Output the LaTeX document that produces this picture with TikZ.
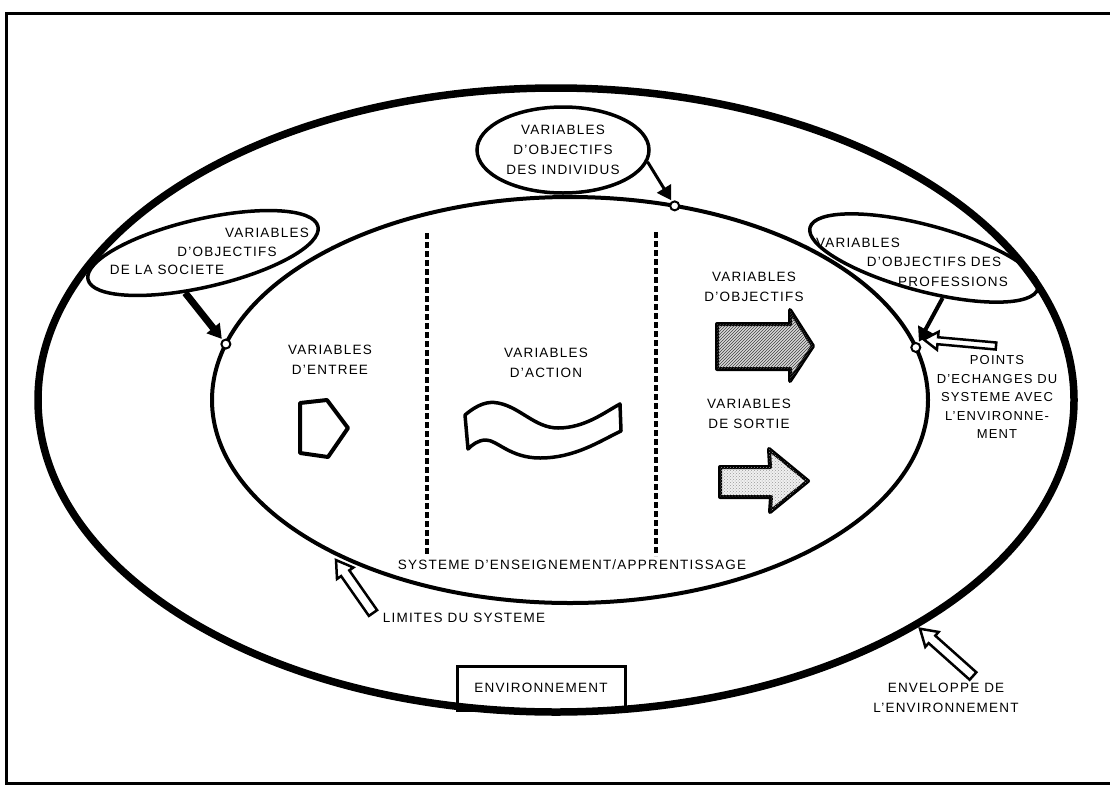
\documentclass[tikz,border=0pt]{standalone}
\usepackage{fontspec}
\setmainfont[LetterSpace=9]{Liberation Sans}
\usetikzlibrary{calc,arrows.meta,patterns,shapes.geometric}
% hollow arrow: #1 name, #2 tail, #3 tip, #4 body half width, #5 head half width, #6 head length
\newcommand\hollowarrow[6]{%
  \coordinate (#1h) at ($(#3)!#6!(#2)$);
  \draw[hollowarr] ($(#2)!#4!90:(#3)$) -- ($(#1h)!#4!90:(#3)$) -- ($(#1h)!#5!90:(#3)$) -- (#3)
     -- ($(#1h)!#5!-90:(#3)$) -- ($(#1h)!#4!-90:(#3)$) -- ($(#2)!#4!-90:(#3)$) -- cycle;%
}
\begin{document}
\begin{tikzpicture}[x=1pt,y=-1pt,
  txt/.style={font=\fontsize{13.5}{20}\selectfont, inner sep=0pt, align=center},
  bubble/.style={ellipse, draw, line width=3.5pt, inner sep=0pt},
  hollowarr/.style={draw, line width=2.5pt, fill=white, line join=miter},
  solidarr/.style={line width=#1, -{Triangle[length=14pt,width=16pt]}, shorten >=1pt},
  exchpt/.style={circle, draw, fill=white, line width=2pt, minimum size=9pt, inner sep=0pt},
  divider/.style={line width=3.5pt, dash pattern=on 6pt off 3pt},
  fatarrow/.style={draw, line width=4pt, line join=round}]
\useasboundingbox (0,0) rectangle (1110,790);
\fill[white] (0,0) rectangle (1110,790);
% frame
\coordinate (f1) at (1110,13); \coordinate (f2) at (6,13);
\coordinate (f3) at (6,783); \coordinate (f4) at (1110,783);
\draw[line width=3pt] (f1) -- (f2) -- (f3) -- (f4);
% environment envelope and system boundary
\coordinate (oc) at (556,400);
\draw[line width=7.5pt] (oc) ellipse [x radius=518pt, y radius=312pt];
\coordinate (ic) at (570,400);
\draw[line width=4pt] (ic) ellipse [x radius=358pt, y radius=203pt];
% dividers
\coordinate (d1a) at (427,233); \coordinate (d1b) at (427,556);
\coordinate (d2a) at (656,232); \coordinate (d2b) at (656,556);
\draw[divider] (d1a) -- (d1b);
\draw[divider] (d2a) -- (d2b);
% input arrow
\draw[fatarrow] (300,403) -- (327,400) -- (348,428) -- (328,457) -- (300,453) -- cycle;
% action wave
\draw[line width=3.5pt, line join=round] (465,415) .. controls (478,404) and (488,401) .. (498,403)
  .. controls (520,407) and (535,428) .. (558,428) .. controls (585,428) and (605,412) .. (620,404)
  -- (621,431) .. controls (600,441) and (575,458) .. (540,458) .. controls (510,458) and (497,440) .. (486,440)
  .. controls (478,440) and (472,445) .. (468,449) -- cycle;
% objective arrow (hatched)
\draw[fatarrow, fill=gray!30, postaction={pattern=north east lines, pattern color=black!75}]
  (717,324) -- (790,324) -- (790,310) -- (813,346) -- (790,381) -- (790,369) -- (717,369) -- cycle;
% output arrow (dotted)
\draw[fatarrow, fill=gray!12, postaction={pattern=crosshatch dots, pattern color=gray!80}]
  (720,467) -- (770,467) -- (769,449) -- (808,481) -- (770,512) -- (771,497) -- (720,497) -- cycle;
% callouts
\node[bubble, txt, minimum width=172pt, minimum height=86pt] (ct) at (563,150) {VARIABLES\\D'OBJECTIFS\\DES INDIVIDUS};
\node[bubble, minimum width=236pt, minimum height=68pt, rotate=13] (cl) at (203,253) {};
\node[txt] (ls1) at (267,233) {VARIABLES};
\node[txt] (ls2) at (227,252) {D'OBJECTIFS};
\node[txt] (ls3) at (167,270) {DE LA SOCIETE};
\node[bubble, minimum width=236pt, minimum height=66pt, rotate=-15] (cr) at (924,258) {};
\node[txt] (rp1) at (858,243) {VARIABLES};
\node[txt] (rp2) at (934,262) {D'OBJECTIFS DES};
\node[txt] (rp3) at (953,282) {PROFESSIONS};
% labels
\node[txt] (ent) at (330,360) {VARIABLES\\D'ENTREE};
\node[txt] (act) at (546,363) {VARIABLES\\D'ACTION};
\node[txt] (obj) at (754,287) {VARIABLES\\D'OBJECTIFS};
\node[txt] (sor) at (749,414) {VARIABLES\\DE SORTIE};
\node[txt, font=\fontsize{13}{18.5}\selectfont] (pts) at (997,397) {POINTS\\D'ECHANGES DU\\SYSTEME AVEC\\L'ENVIRONNE-\\MENT};
\node[txt] (sys) at (572,565) {SYSTEME D'ENSEIGNEMENT/APPRENTISSAGE};
\node[txt] (lim) at (464,618) {LIMITES DU SYSTEME};
\node[txt, draw, line width=3pt, minimum width=168pt, minimum height=44pt] (env) at (541,688) {ENVIRONNEMENT};
\node[txt] (envl) at (946,698) {ENVELOPPE DE\\L'ENVIRONNEMENT};
% exchange points
\node[exchpt] (pl) at ($(ic)+(196:358 and 203)$) {};
\node[exchpt] (pt) at ($(ic)+(-73:358 and 203)$) {};
\node[exchpt] (pr) at ($(ic)+(-15:358 and 203)$) {};
% solid arrows from callouts
\draw[solidarr=3pt] (ct.-8) -- (pt);
\draw[solidarr=7pt] (cl.-127) -- (pl);
\draw[solidarr=4pt] (cr.-50) -- (pr);
% hollow arrows
\coordinate (ptsTail) at (996,346);
\coordinate (ptsTip) at ($(pr)+(8,-8)$);
\hollowarrow{haa}{ptsTail}{ptsTip}{3.5pt}{9pt}{14pt}
\coordinate (limTail) at (373,613);
\coordinate (limTip) at ($(ic)+(130:364 and 209)$);
\hollowarrow{hab}{limTail}{limTip}{5pt}{10pt}{16pt}
\coordinate (envTail) at (973,676);
\coordinate (envTip) at ($(oc)+(46:524 and 318)$);
\hollowarrow{hac}{envTail}{envTip}{5pt}{10pt}{16pt}
\end{tikzpicture}
\end{document}
